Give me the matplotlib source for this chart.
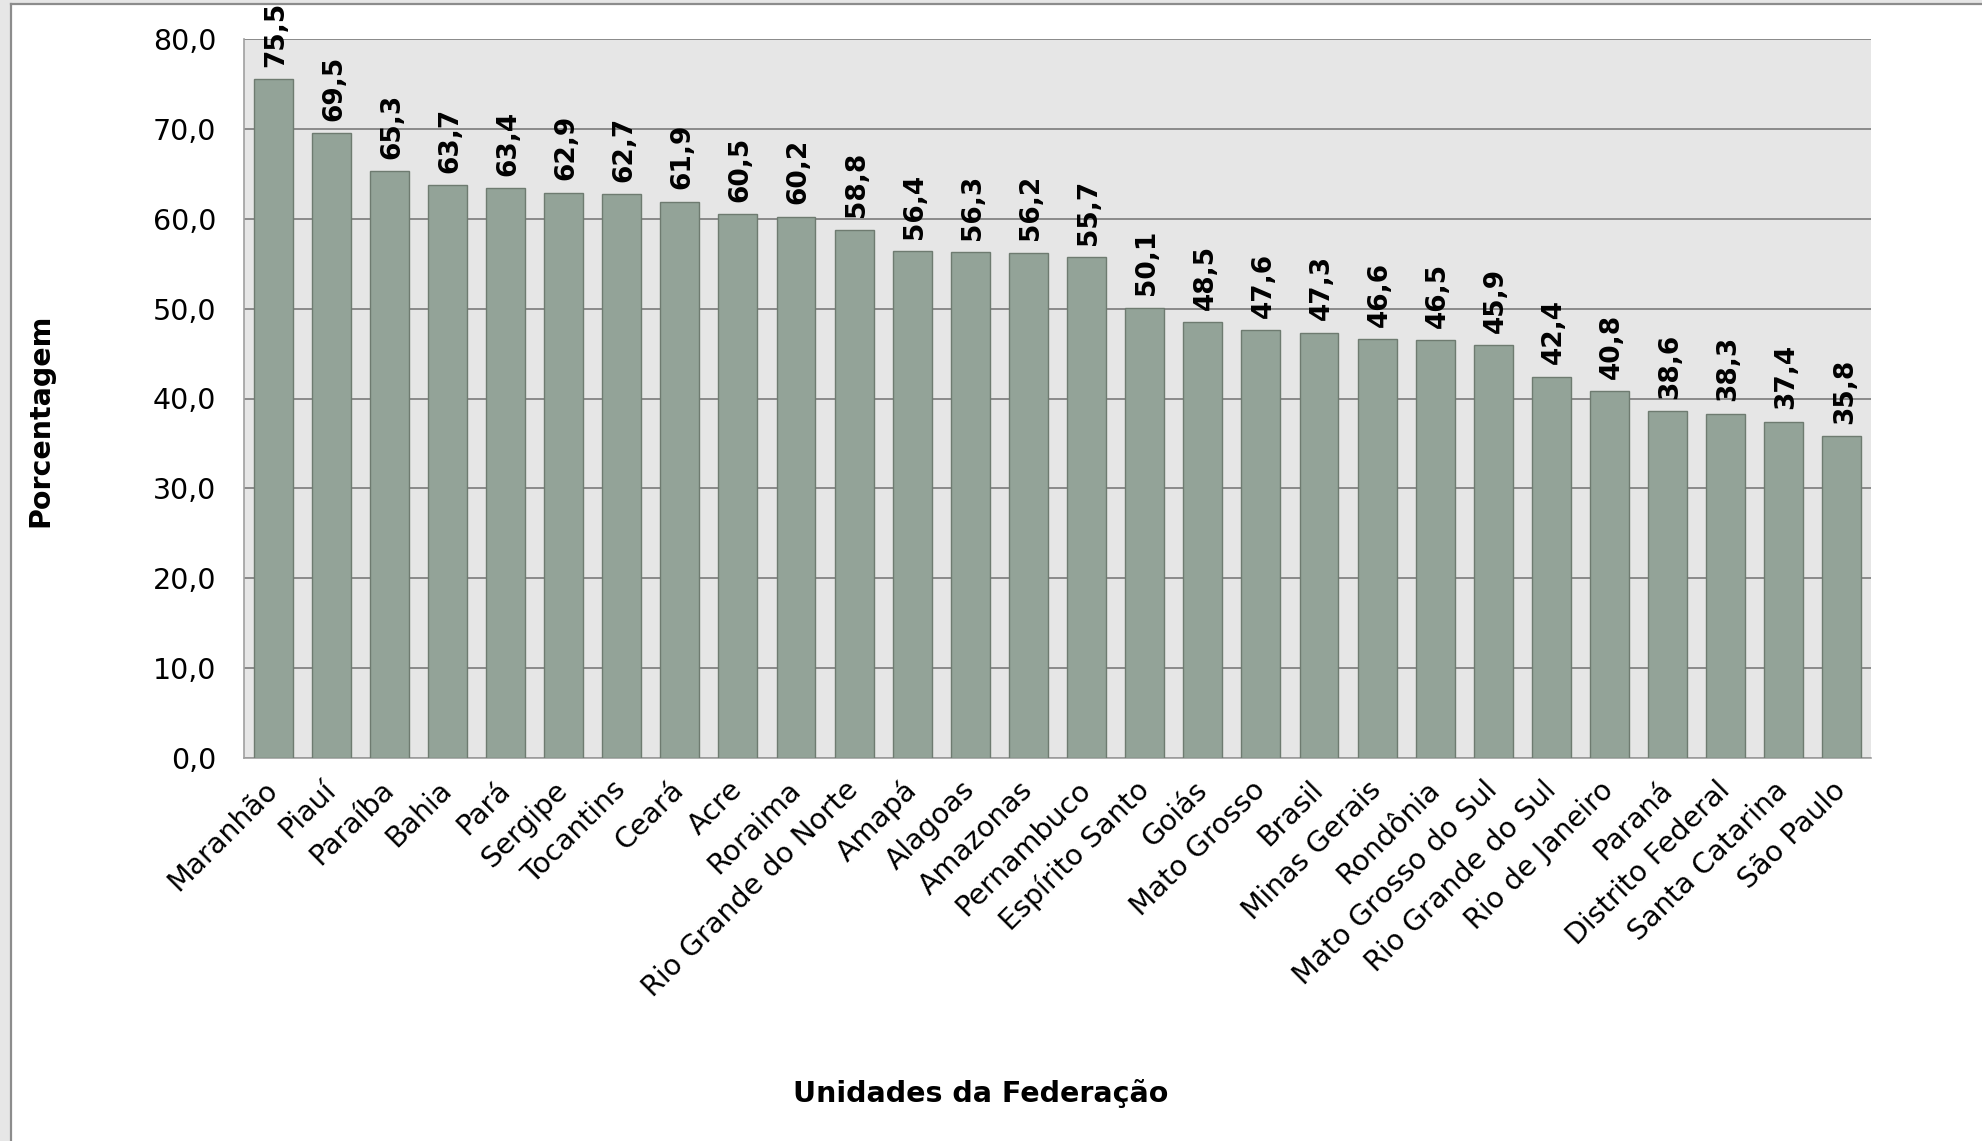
import matplotlib.pyplot as plt
from matplotlib.patches import Rectangle
from matplotlib.lines import Line2D

# unidades da federação e porcentagens
estados = ['Maranhão', 'Piauí', 'Paraíba', 'Bahia', 'Pará', 'Sergipe', 'Tocantins',
           'Ceará', 'Acre', 'Roraima', 'Rio Grande do Norte', 'Amapá', 'Alagoas',
           'Amazonas', 'Pernambuco', 'Espírito Santo', 'Goiás', 'Mato Grosso',
           'Brasil', 'Minas Gerais', 'Rondônia', 'Mato Grosso do Sul',
           'Rio Grande do Sul', 'Rio de Janeiro', 'Paraná', 'Distrito Federal',
           'Santa Catarina', 'São Paulo']
valores = [75.5, 69.5, 65.3, 63.7, 63.4, 62.9, 62.7, 61.9, 60.5, 60.2, 58.8, 56.4,
           56.3, 56.2, 55.7, 50.1, 48.5, 47.6, 47.3, 46.6, 46.5, 45.9, 42.4, 40.8,
           38.6, 38.3, 37.4, 35.8]
yticks = [0, 10, 20, 30, 40, 50, 60, 70, 80]

plt.rcParams['font.family'] = ['DejaVu Sans']

W, H = 1982, 1141
fig = plt.figure(figsize=(W / 100, H / 100), dpi=100, facecolor='white')

# moldura cinza (captura de tela do gráfico)
fig.patches.append(Rectangle((0, 0), 10 / W, 1, transform=fig.transFigure,
                             facecolor='#e6e6e6', edgecolor='none', zorder=0))
fig.patches.append(Rectangle((0, 1 - 3 / H), 1, 3 / H, transform=fig.transFigure,
                             facecolor='#e6e6e6', edgecolor='none', zorder=0))
fig.lines.append(Line2D([11 / W, 11 / W], [0, 1 - 4 / H], transform=fig.transFigure,
                        color='#8c8c8c', lw=1.6))
fig.lines.append(Line2D([11 / W, 1], [1 - 4 / H, 1 - 4 / H], transform=fig.transFigure,
                        color='#8c8c8c', lw=1.6))

ax = fig.add_axes([244 / W, 1 - 758 / H, (1871 - 244) / W, (758 - 39) / H])
ax.set_facecolor('#e6e6e6')

x = range(len(estados))
ax.bar(x, valores, width=0.67, color='#93a398', edgecolor='#6e7b70', linewidth=1.0,
       zorder=3)

for i, v in zip(x, valores):
    ax.annotate(f'{v:.1f}'.replace('.', ','), (i, v), xytext=(2, 9),
                textcoords='offset points', rotation=90, ha='center', va='bottom',
                fontsize=19, fontweight='bold', annotation_clip=False)

ax.set_xlim(-0.5, len(estados) - 0.5)
ax.set_ylim(0, 80)
ax.set_yticks(yticks)
ax.set_yticklabels([f'{t:.1f}'.replace('.', ',') for t in yticks], fontsize=20.5)
ax.yaxis.grid(True, color='#8a8a8a', linewidth=1.4, zorder=1)
ax.set_axisbelow(True)

ax.set_xticks(list(x))
ax.set_xticklabels(estados, rotation=45, ha='right', va='center',
                   rotation_mode='anchor', fontsize=20.5)
for lbl in ax.get_xticklabels():
    lbl.set_x(lbl.get_position()[0])
ax.tick_params(axis='both', length=0)
ax.tick_params(axis='x', pad=20)
ax.tick_params(axis='y', pad=20)

for s in ['top', 'right']:
    ax.spines[s].set_visible(False)
ax.spines['left'].set_color('#a0a0a0')
ax.spines['bottom'].set_color('#a0a0a0')
ax.spines['left'].set_linewidth(1.2)
ax.spines['bottom'].set_linewidth(1.2)

fig.text(40 / W, 1 - 420 / H, 'Porcentagem', rotation=90, ha='center', va='center',
         fontsize=20.5, fontweight='bold')
fig.text(981 / W, 1 - 1093 / H, 'Unidades da Federação', ha='center', va='center',
         fontsize=20.5, fontweight='bold')

fig.savefig('out.png', dpi=100, facecolor='white')
